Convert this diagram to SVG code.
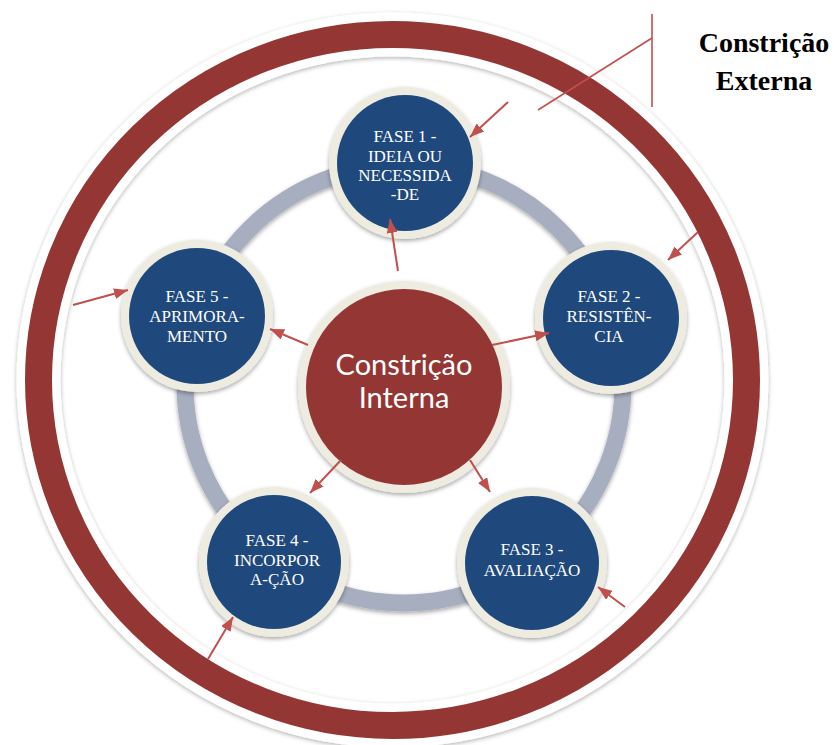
<svg xmlns="http://www.w3.org/2000/svg" width="834" height="745" viewBox="0 0 834 745">
  <defs>
    <filter id="shadow" x="-20%" y="-20%" width="140%" height="140%">
      <feDropShadow dx="0" dy="2" stdDeviation="2" flood-color="#000" flood-opacity="0.35"/>
    </filter>
    <filter id="ringShadow" x="-10%" y="-10%" width="120%" height="120%">
      <feDropShadow dx="0" dy="1.5" stdDeviation="2" flood-color="#000" flood-opacity="0.3"/>
    </filter>
    <marker id="head" markerUnits="userSpaceOnUse" markerWidth="14" markerHeight="11" refX="14" refY="5.5" orient="auto">
      <path d="M0,0 L14,5.5 L0,11 z" fill="#c0504d"/>
    </marker>
    <style>
      .phase-ring { fill: #eeece1; filter: url(#shadow); }
      .phase-core { fill: #1f497d; }
      .phase-text { font-family: "Liberation Serif", "Times New Roman", serif; font-size: 17px; fill: #ffffff; text-anchor: middle; }
      .arrow { stroke: #c0504d; stroke-width: 2; fill: none; marker-end: url(#head); }
      .callout { stroke: #c0504d; stroke-width: 1.6; fill: none; }
      .label { font-family: "Liberation Serif", "Times New Roman", serif; font-weight: bold; font-size: 28px; fill: #000; text-anchor: middle; }
    </style>
  </defs>

  <rect width="834" height="745" fill="#ffffff"/>

  <!-- external boundary ring -->
  <g id="outer-ring">
    <ellipse cx="392.5" cy="380" rx="354" ry="345.5" fill="none" stroke="#ffffff" stroke-width="44" filter="url(#ringShadow)"/>
    <ellipse cx="392.5" cy="380" rx="354" ry="345.5" fill="none" stroke="#943634" stroke-width="27"/>
  </g>

  <!-- cycle track linking the phases -->
  <g id="cycle-track">
    <circle cx="404" cy="384" r="219" fill="none" stroke="#a6aebf" stroke-width="17" filter="url(#shadow)"/>
  </g>

  <!-- external constraint label -->
  <g id="external-label">
    <text class="label" x="764" y="52">Constrição</text>
    <text class="label" x="764" y="90">Externa</text>
  </g>

  <g id="phase1">
    <circle class="phase-ring" cx="405" cy="163" r="76"/>
    <circle class="phase-core" cx="405" cy="163" r="68"/>
    <text class="phase-text" x="405" y="142">FASE 1 -</text>
    <text class="phase-text" x="405" y="162">IDEIA OU</text>
    <text class="phase-text" x="405" y="181">NECESSIDA</text>
    <text class="phase-text" x="405" y="200">-DE</text>
  </g>

  <g id="phase2">
    <circle class="phase-ring" cx="611" cy="318" r="76"/>
    <circle class="phase-core" cx="611" cy="318" r="68"/>
    <text class="phase-text" x="609" y="302">FASE 2 -</text>
    <text class="phase-text" x="609" y="322">RESISTÊN-</text>
    <text class="phase-text" x="609" y="342">CIA</text>
  </g>

  <g id="phase3">
    <circle class="phase-ring" cx="532" cy="563" r="75"/>
    <circle class="phase-core" cx="532" cy="563" r="67"/>
    <text class="phase-text" x="532" y="555">FASE 3 -</text>
    <text class="phase-text" x="532" y="576">AVALIAÇÃO</text>
  </g>

  <g id="phase4">
    <circle class="phase-ring" cx="274" cy="562" r="75"/>
    <circle class="phase-core" cx="274" cy="562" r="67"/>
    <text class="phase-text" x="277" y="546">FASE 4 -</text>
    <text class="phase-text" x="277" y="566">INCORPOR</text>
    <text class="phase-text" x="277" y="585">A-ÇÃO</text>
  </g>

  <g id="phase5">
    <circle class="phase-ring" cx="197" cy="316" r="76"/>
    <circle class="phase-core" cx="197" cy="316" r="68"/>
    <text class="phase-text" x="197" y="302">FASE 5 -</text>
    <text class="phase-text" x="197" y="322">APRIMORA-</text>
    <text class="phase-text" x="197" y="342">MENTO</text>
  </g>

  <g id="internal-constraint">
    <circle cx="404" cy="387" r="106" fill="#eeece1" filter="url(#shadow)"/>
    <circle cx="404" cy="387" r="98" fill="#943634"/>
    <text x="404" y="375" font-family="Lato, 'Open Sans', sans-serif" font-size="29" fill="#ffffff" text-anchor="middle">Constrição</text>
    <text x="404" y="408" font-family="Lato, 'Open Sans', sans-serif" font-size="29" fill="#ffffff" text-anchor="middle">Interna</text>
  </g>

  <!-- connectors -->
  <g id="connectors">
    <polyline class="callout" points="652,14 652,107"/>
    <line class="callout" x1="652" y1="38" x2="538" y2="110"/>
    <line class="arrow" x1="508" y1="102" x2="470" y2="137"/>
    <line class="arrow" x1="698" y1="232" x2="668" y2="260"/>
    <line class="arrow" x1="625" y1="607" x2="598" y2="587"/>
    <line class="arrow" x1="208" y1="659" x2="233" y2="617"/>
    <line class="arrow" x1="73" y1="305" x2="128" y2="290"/>
    <line class="arrow" x1="398" y1="271" x2="390" y2="219"/>
    <line class="arrow" x1="492" y1="345" x2="549" y2="333"/>
    <line class="arrow" x1="470" y1="460" x2="490" y2="492"/>
    <line class="arrow" x1="341" y1="460" x2="310" y2="493"/>
    <line class="arrow" x1="308" y1="345" x2="270" y2="329"/>
  </g>
</svg>
